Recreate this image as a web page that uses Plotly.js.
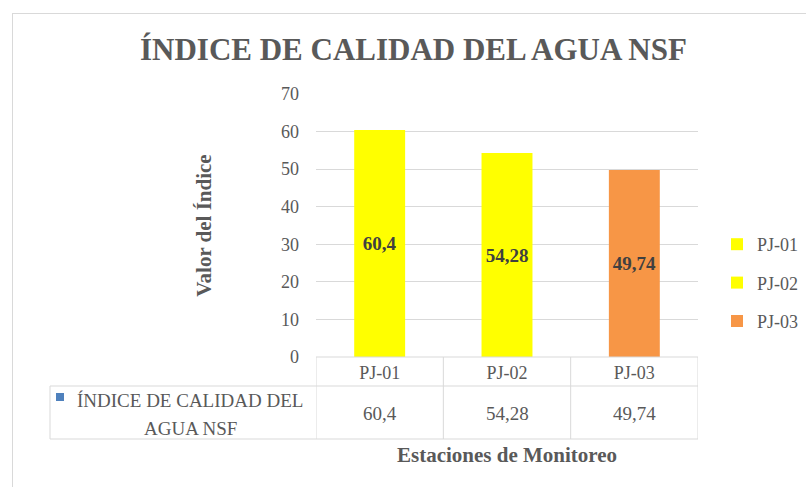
<!DOCTYPE html>
<html>
<head>
<meta charset="utf-8">
<script src="https://cdn.plot.ly/plotly-3.0.1.min.js"></script>
<style>
  html, body { margin: 0; padding: 0; background: #ffffff; }
  #wrap { position: relative; width: 806px; height: 487px; overflow: hidden; }
  #frame { position: absolute; left: 12px; top: 13px; width: 820px; height: 500px; border: 1px solid #d9d9d9; box-sizing: border-box; }
  #chart { position: absolute; left: 0; top: 0; width: 806px; height: 487px; }
</style>
</head>
<body>
<div id="wrap">
  <div id="frame"></div>
  <div id="chart"></div>
</div>
<script>
const categories = ["PJ-01", "PJ-02", "PJ-03"];
const values = [60.4, 54.28, 49.74];
const barColors = ["#ffff00", "#ffff00", "#f79646"];
const seriesLines = ["ÍNDICE DE CALIDAD DEL", "AGUA NSF"];
const yTicks = [0, 10, 20, 30, 40, 50, 60, 70];

const fmt = v => String(v).replace(".", ",");
const serif = "Liberation Serif, Times New Roman, serif";
const grey = "#595959";
const lineCol = "#d9d9d9";

// plot area in pixels (for converting table geometry to paper coords)
const PL = 316, PR = 698, PT = 94, PB = 357;
const px2x = p => (p - PL) / (PR - PL);
const py2y = p => 1 - (p - PT) / (PB - PT);

const traces = categories.map((c, i) => ({
  type: "bar",
  x: [c],
  y: [values[i]],
  name: c,
  legendgroup: c,
  width: 0.4,
  marker: { color: barColors[i] },
  text: [fmt(values[i])],
  textposition: "inside",
  insidetextanchor: "middle",
  textangle: 0,
  textfont: { family: serif, size: 19, color: "#404040", weight: "bold" },
  hoverinfo: "x+y"
}));

const shapes = [];
const line = (x0, x1, y0, y1, xref) => ({
  type: "line", xref: xref || "paper", yref: "paper", x0, x1, y0, y1,
  line: { color: lineCol, width: 1 }
});
shapes.push(line(-0.5, 2.5, 0, 0, "x"));
shapes.push(line(px2x(50), 1, py2y(386), py2y(386)));
shapes.push(line(px2x(50), 1, py2y(439), py2y(439)));
[-0.5, 0.5, 1.5, 2.5].forEach(b => shapes.push(line(b, b, 0, py2y(439), "x")));
shapes.push(line(px2x(50), px2x(50), py2y(386), py2y(439)));
shapes.push({
  type: "rect", xref: "paper", yref: "paper",
  x0: px2x(56), x1: px2x(64), y0: py2y(401), y1: py2y(393),
  fillcolor: "#4f81bd", line: { width: 0 }
});

const annotations = [];
categories.forEach((c, i) => {
  annotations.push({
    x: c, xref: "x", y: py2y(413), yref: "paper",
    xanchor: "center", yanchor: "middle",
    text: fmt(values[i]), showarrow: false,
    font: { family: serif, size: 19, color: grey }
  });
});
const lineY = [400, 428];
seriesLines.forEach((t, k) => {
  annotations.push({
    x: px2x(190), xref: "paper", y: py2y(lineY[k]), yref: "paper",
    xanchor: "center", yanchor: "middle",
    text: t, showarrow: false,
    font: { family: serif, size: 19, color: grey }
  });
});

const layout = {
  width: 806, height: 487,
  paper_bgcolor: "rgba(0,0,0,0)",
  plot_bgcolor: "rgba(0,0,0,0)",
  margin: { l: PL, r: 806 - PR, t: PT, b: 487 - PB, autoexpand: false },
  title: {
    text: "ÍNDICE DE CALIDAD DEL AGUA NSF",
    font: { family: serif, size: 31, color: grey, weight: "bold" },
    x: 0.513, xanchor: "center", y: 0.9, yanchor: "middle", yref: "container"
  },
  barmode: "overlay",
  showlegend: true,
  legend: {
    x: px2x(717), xanchor: "left", y: py2y(283), yanchor: "middle",
    font: { family: serif, size: 18, color: grey },
    itemwidth: 30, tracegroupgap: 12
  },
  xaxis: {
    type: "category",
    range: [-0.5, 2.5],
    showgrid: false, zeroline: false, showline: false,
    ticks: "",
    tickfont: { family: serif, size: 18, color: grey },
    ticklabelstandoff: 3,
    title: {
      text: "Estaciones de Monitoreo",
      font: { family: serif, size: 21, color: grey, weight: "bold" },
      standoff: 65
    }
  },
  yaxis: {
    range: [0, 70],
    tickvals: yTicks,
    showgrid: true, gridcolor: lineCol, gridwidth: 1,
    zeroline: false, showline: false, ticks: "",
    tickfont: { family: serif, size: 18, color: grey },
    ticklabelstandoff: 16,
    title: {
      text: "Valor del Índice",
      font: { family: serif, size: 21, color: grey, weight: "bold" },
      standoff: 63
    }
  },
  shapes: shapes,
  annotations: annotations,
  font: { family: serif, color: grey }
};

Plotly.newPlot("chart", traces, layout, { displayModeBar: false, staticPlot: true });
</script>
</body>
</html>
